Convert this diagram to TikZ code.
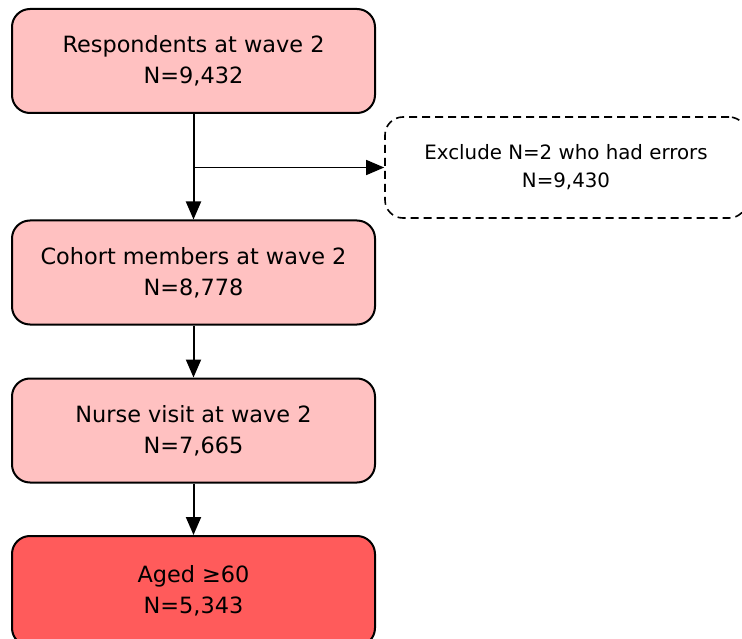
\documentclass[tikz,border=0pt]{standalone}
\usepackage{fontspec}
\setmainfont{DejaVu Sans}
\usetikzlibrary{arrows.meta}
\definecolor{boxpink}{HTML}{FFC1C1}
\definecolor{boxred}{HTML}{FF5B5B}
\tikzset{
  stage/.style={draw=black, line width=2pt, rounded corners=18pt, fill=boxpink,
    minimum width=363pt, minimum height=104pt, inner sep=0pt, align=center,
    font=\fontsize{22.4}{31}\selectfont},
  final/.style={stage, fill=boxred, minimum height=110pt},
  excl/.style={draw=black, line width=1.6pt, dash pattern=on 8pt off 5pt,
    rounded corners=18pt, minimum width=362pt, minimum height=101pt, inner sep=0pt,
    align=center, font=\fontsize{19.8}{28}\selectfont},
  flow/.style={line width=2pt, -{Triangle[length=18pt, width=15pt]}},
  branch/.style={line width=1.3pt, -{Triangle[length=18pt, width=15pt]}}
}
\begin{document}
\begin{tikzpicture}[x=1pt, y=-1pt]
  \useasboundingbox (0,0) rectangle (742,639);
  \clip (0,0) rectangle (742,639);
  \node[stage] (resp) at (193.5,61) {Respondents at wave 2\\N=9,432};
  \node[stage] (coh) at (193.5,272.5) {Cohort members at wave 2\\N=8,778};
  \node[stage] (nurse) at (193.5,430.5) {Nurse visit at wave 2\\N=7,665};
  \node[final] (aged) at (193.5,591) {Aged ≥60\\N=5,343};
  \node[excl] (ex) at (566,167.5) {Exclude N=2 who had errors\\N=9,430};
  \coordinate (split) at (resp.south |- ex.west);
  \draw[flow] (resp.south) -- (coh.north);
  \draw[branch] (split) -- (ex.west);
  \draw[flow] (coh.south) -- (nurse.north);
  \draw[flow] (nurse.south) -- (aged.north);
\end{tikzpicture}
\end{document}
